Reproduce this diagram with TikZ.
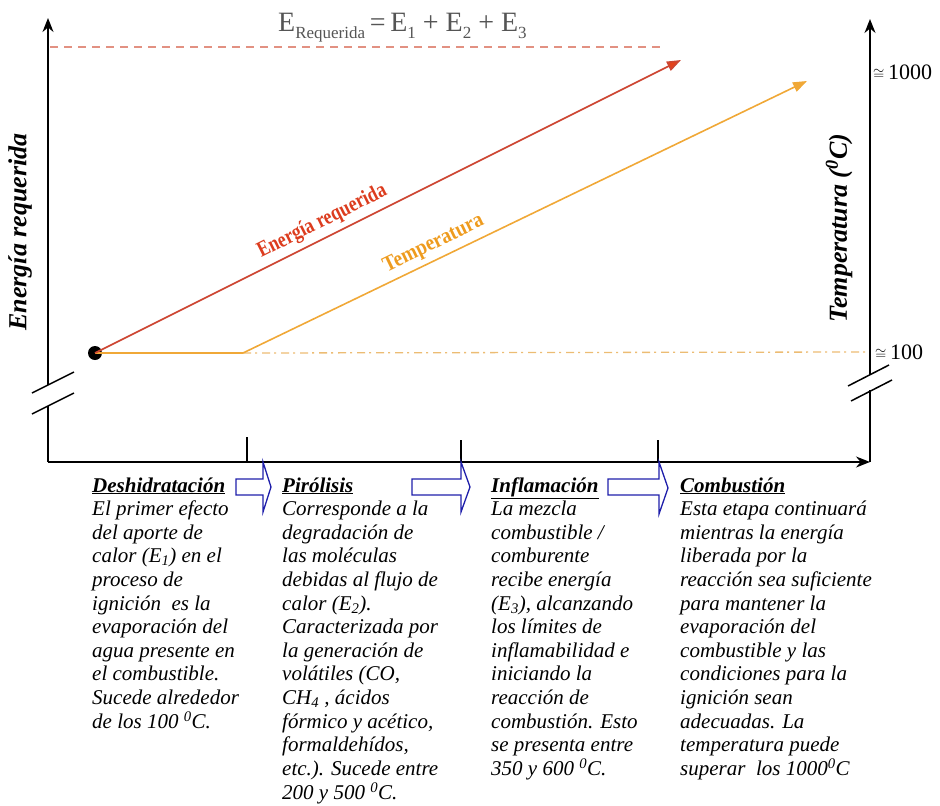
\documentclass[tikz,border=0pt]{standalone}
\usepackage{fontspec}
\setmainfont{Liberation Serif}
\usepackage{graphicx}
\usetikzlibrary{arrows.meta}
\definecolor{redln}{RGB}{205,70,50}
\definecolor{redtip}{RGB}{228,65,25}
\definecolor{redtxt}{RGB}{220,60,30}
\definecolor{orln}{RGB}{240,168,55}
\definecolor{ortxt}{RGB}{238,155,30}
\definecolor{dashred}{RGB}{226,145,130}
\definecolor{dashor}{RGB}{236,188,115}
\definecolor{titlegray}{RGB}{85,85,85}
\definecolor{blk}{RGB}{30,30,170}
\newcommand{\sbx}[1]{\raisebox{-0.25em}{\fontsize{17}{17}\selectfont #1}}
\begin{document}
\begin{tikzpicture}[x=1pt,y=-1pt,
  axis/.style={line width=1.5pt,black},
  axtip/.style={-{Stealth[length=14pt,width=11pt]}},
  tick/.style={line width=1.2pt,black},
  brk/.style={line width=1.5pt,black},
  desc/.style={anchor=base west,inner sep=0pt,
    font={\fontsize{21}{23.6}\selectfont\itshape}},
  blockarrow/.style={draw=blk,line width=1.3pt,line join=miter},
  lbl/.style={font={\fontsize{22}{24}\selectfont}},
  axlbl/.style={rotate=90,inner sep=0pt,font={\fontsize{26}{28}\selectfont\bfseries\itshape}},
  linelbl/.style={sloped,above=5pt,inner sep=0pt,font={\fontsize{22}{24}\selectfont\bfseries}}
]
\useasboundingbox (0,0) rectangle (940,806);

% axes coordinates
\coordinate (O) at (48,462);
\coordinate (Lb1) at (48,406);
\coordinate (Lb2) at (48,385);
\coordinate (Ltop) at (48,18);
\coordinate (Xend) at (870,462);
\coordinate (Rb1) at (870,390);
\coordinate (Rb2) at (870,375);
\coordinate (Rtop) at (870,19);

\draw[axis] (O) -- (Lb1);
\draw[axis,axtip] (Lb2) -- (Ltop);
\draw[axis,axtip] (O) -- (Xend);
\draw[axis] (Xend) -- (Rb1);
\draw[axis,axtip] (Rb2) -- (Rtop);

% break marks
\draw[brk] (32,393) -- (74,372);
\draw[brk] (32,414) -- (74,393);
\draw[brk] (848,386) -- (889,365);
\draw[brk] (851,401) -- (892,380);

% ticks
\draw[tick] (247,437) -- (247,462);
\draw[tick] (461,440) -- (461,462);
\draw[tick] (658,440) -- (658,462);

% dashed top line
\coordinate (dA) at (50,47);
\coordinate (dB) at (663,47);
\draw[dashred,line width=1.3pt,dash pattern=on 8pt off 6pt] (dA) -- (dB);

% title
\node[anchor=base west,inner sep=0pt,text=titlegray,font={\fontsize{28}{30}\selectfont}] (title) at (278,31)
  {E\sbx{Requerida}\,=\,E\sbx{1} + E\sbx{2} + E\sbx{3}};

% start dot
\node[circle,fill=black,inner sep=0pt,minimum size=14pt] (dot) at (95,353) {};
\coordinate (redend) at (681,60);
\coordinate (bend) at (243,353);
\coordinate (orend) at (807,81);
\coordinate (ddend) at (866,352);

% dash-dot temperature reference
\draw[dashor,line width=1.3pt,dash pattern=on 8pt off 4pt on 2pt off 5pt] (bend) -- (ddend);

% orange temperature line
\draw[orln,line width=1.6pt] (dot.center) -- (bend);
\draw[orln,line width=1.6pt,-{Triangle[length=14pt,width=10pt]}] (bend) -- (orend)
  node[linelbl,pos=0.35,text=ortxt] {\scalebox{0.88}[1]{Temperatura}};

% red energy line
\draw[redln,line width=1.6pt,-{Triangle[length=14pt,width=10pt,fill=redtip]}] (dot.center) -- (redend)
  node[linelbl,pos=0.4,text=redtxt] {\scalebox{0.82}[1]{Energía requerida}};

% axis labels
\node[axlbl] (ylab) at (20,232) {Energía requerida};
\node[axlbl] (tlab) at (839,228) {Temperatura (\textsuperscript{0}C)};
\node[lbl,anchor=west,inner sep=0pt] (t1000) at (873,72) {{\fontsize{15}{15}\selectfont$\cong$}\,1000};
\node[lbl,anchor=west,inner sep=0pt] (t100) at (875,352) {{\fontsize{15}{15}\selectfont$\cong$}\,100};

% block arrows
\draw[blockarrow] (236,479) -- (263,479) -- (263,462) -- (271,487) -- (263,512) -- (263,495) -- (236,495) -- cycle;
\draw[blockarrow] (412,479) -- (461,479) -- (461,462) -- (470,487) -- (461,512) -- (461,495) -- (412,495) -- cycle;
\draw[blockarrow] (608,479) -- (659,479) -- (659,462) -- (668,488) -- (659,514) -- (659,495) -- (608,495) -- cycle;

% descriptions
\node[desc] (d1) at (92,492) {\begin{tabular}[t]{@{}l@{}}\underline{\textbf{Deshidratación}}\\
El primer efecto\\
del aporte de\\
calor (\textit{E}\textsubscript{1}) en el\\
proceso de\\
ignición\ \ es la\\
evaporación del\\
agua presente en\\
el combustible.\\
Sucede alrededor\\
de los 100 \textsuperscript{0}C.\end{tabular}};

\node[desc] (d2) at (282,492) {\begin{tabular}[t]{@{}l@{}}\underline{\textbf{Pirólisis}}\\
Corresponde a la\\
degradación de\\
las moléculas\\
debidas al flujo de\\
calor (\textit{E}\textsubscript{2}).\\
Caracterizada por\\
la generación de\\
volátiles (CO,\\
CH\textsubscript{4} , ácidos\\
fórmico y acético,\\
formaldehídos,\\
etc.). Sucede entre\\
200 y 500 \textsuperscript{0}C.\end{tabular}};

\node[desc] (d3) at (491,492) {\begin{tabular}[t]{@{}l@{}}\underline{\textbf{Inflamación}}\\
La mezcla\\
combustible /\\
comburente\\
recibe energía\\
(\textit{E}\textsubscript{3}), alcanzando\\
los límites de\\
inflamabilidad e\\
iniciando la\\
reacción de\\
combustión. Esto\\
se presenta entre\\
350 y 600 \textsuperscript{0}C.\end{tabular}};

\node[desc] (d4) at (680,492) {\begin{tabular}[t]{@{}l@{}}\underline{\textbf{Combustión}}\\
Esta etapa continuará\\
mientras la energía\\
liberada por la\\
reacción sea suficiente\\
para mantener la\\
evaporación del\\
combustible y las\\
condiciones para la\\
ignición sean\\
adecuadas. La\\
temperatura puede\\
superar\ \ los 1000\textsuperscript{0}C\end{tabular}};
\end{tikzpicture}
\end{document}
